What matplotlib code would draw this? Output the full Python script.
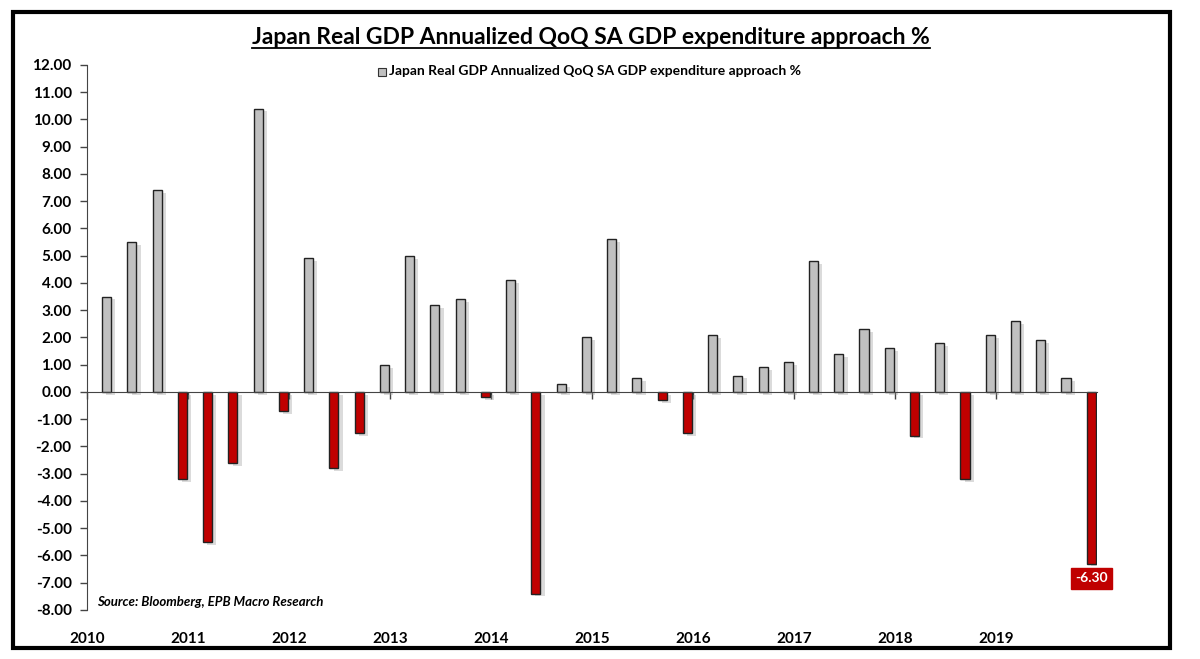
import matplotlib
matplotlib.use("Agg")
import matplotlib.pyplot as plt
import matplotlib.patheffects as pe
from matplotlib.patches import Rectangle
import numpy as np

plt.rcParams['font.family'] = ['Lato', 'DejaVu Sans']

title = "Japan Real GDP Annualized QoQ SA GDP expenditure approach %"
series_name = "Japan Real GDP Annualized QoQ SA GDP expenditure approach %"
source = "Source: Bloomberg, EPB Macro Research"

# quarterly values 2010 Q1 .. 2019 Q4
values = [3.5, 5.5, 7.4, -3.2,
          -5.5, -2.6, 10.4, -0.7,
          4.9, -2.8, -1.5, 1.0,
          5.0, 3.2, 3.4, -0.2,
          4.1, -7.4, 0.3, 2.0,
          5.6, 0.5, -0.3, -1.5,
          2.1, 0.6, 0.9, 1.1,
          4.8, 1.4, 2.3, 1.6,
          -1.6, 1.8, -3.2, 2.1,
          2.6, 1.9, 0.5, -6.3]
years = list(range(2010, 2020))
yticks = list(range(-8, 13))

x = np.array([2010.195 + 0.25 * k for k in range(len(values))])
vals = np.array(values)
colors = ['#C0C0C0' if v >= 0 else '#C00000' for v in vals]

fig = plt.figure(figsize=(12, 6.59), dpi=100)
ax = fig.add_axes([0.0725, 0.0744, 0.914 - 0.0725, 0.9014 - 0.0744])

bars = ax.bar(x, vals, width=0.09, color=colors, edgecolor='#222222', linewidth=1.0, zorder=3)
for b in bars:
    b.set_path_effects([pe.SimplePatchShadow(offset=(3, -2), shadow_rgbFace='#999999', alpha=0.35),
                        pe.Normal()])

ax.set_xlim(2010, 2020)
ax.set_ylim(-8, 12)
ax.set_yticks(yticks)
ax.set_yticklabels([f"{v:.2f}" for v in yticks], fontsize=11, fontweight='bold')
ax.tick_params(axis='y', direction='out', length=5, width=1, color='#444444', pad=6)

# x axis at zero
for s in ['top', 'right']:
    ax.spines[s].set_visible(False)
ax.spines['bottom'].set_position(('data', 0))
ax.spines['bottom'].set_color('#444444')
ax.spines['bottom'].set_zorder(4)
ax.spines['left'].set_color('#444444')
ax.set_xticks(years)
ax.set_xticklabels([])
ax.tick_params(axis='x', direction='out', length=5, width=1, color='#444444')

# year labels at bottom
for yr in years:
    ax.text(yr, -0.04, str(yr), transform=ax.get_xaxis_transform(), ha='center', va='top',
            fontsize=11, fontweight='bold')

# last value label
ax.text(x[-1], vals[-1] - 0.32, f"{vals[-1]:.2f}", ha='center', va='top', fontsize=10,
        fontweight='bold', color='white', zorder=5,
        bbox=dict(boxstyle='square,pad=0.3', facecolor='#C00000', edgecolor='#C00000'))

# source
ax.text(0.01, 0.003, source, transform=ax.transAxes, ha='left', va='bottom', fontsize=9.5,
        fontweight='bold', fontstyle='italic')

# legend
fig.patches.append(Rectangle((378 / 1200, 1 - 76 / 659), 8 / 1200, 8 / 659, transform=fig.transFigure,
                             facecolor='#C0C0C0', edgecolor='#333333', linewidth=0.8))
fig.text(389 / 1200, 1 - 71 / 659, series_name, ha='left', va='center', fontsize=10, fontweight='bold')

# title
t = fig.text(591 / 1200, 1 - 38 / 659, title, ha='center', va='center', fontsize=16.5, fontweight='bold')
fig.canvas.draw()
bb = t.get_window_extent(renderer=fig.canvas.get_renderer())
fig.add_artist(plt.Line2D([bb.x0 / 1200, bb.x1 / 1200], [(bb.y0 + 1) / 659, (bb.y0 + 1) / 659],
                          transform=fig.transFigure, color='black', linewidth=1.3))

# frame
fig.patches.append(Rectangle((13 / 1200, 1 - 648 / 659), 1157 / 1200, 636 / 659, transform=fig.transFigure,
                             facecolor='none', edgecolor='black', linewidth=3))

fig.savefig('out.png', dpi=100)
